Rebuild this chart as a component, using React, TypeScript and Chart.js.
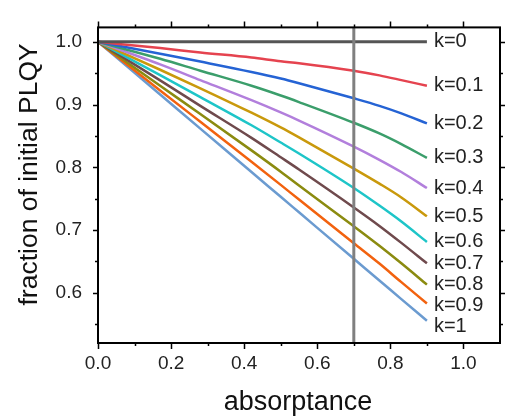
import React, { useEffect, useRef } from "react";
import { Chart, registerables } from "chart.js";

Chart.register(...registerables);

// Shared absorptance sample positions (x)
const absorptance = [0, 0.17, 0.28, 0.42, 0.5, 0.55, 0.7, 0.77, 0.83, 0.9];

// Fraction of initial PLQY per k
const k0 = [1, 1, 1, 1, 1, 1, 1, 1, 1, 1];
const k01 = [1, 0.99, 0.983, 0.975, 0.969, 0.966, 0.954, 0.9465, 0.939, 0.93];
const k02 = [1, 0.981, 0.9685, 0.952, 0.9415, 0.934, 0.91, 0.898, 0.886, 0.87];
const k03 = [1, 0.973, 0.954, 0.93, 0.9145, 0.904, 0.871, 0.854, 0.837, 0.815];
const k04 = [1, 0.964, 0.939, 0.907, 0.8875, 0.8746, 0.833, 0.812, 0.7925, 0.767];
const k05 = [1, 0.9555, 0.926, 0.887, 0.8635, 0.8476, 0.798, 0.774, 0.752, 0.722];
const k06 = [1, 0.947, 0.912, 0.867, 0.8395, 0.822, 0.767, 0.739, 0.7136, 0.681];
const k07 = [1, 0.9385, 0.898, 0.847, 0.816, 0.7965, 0.736, 0.7066, 0.6796, 0.647];
const k08 = [1, 0.93, 0.885, 0.827, 0.793, 0.771, 0.706, 0.675, 0.647, 0.613];
const k09 = [1, 0.9226, 0.8726, 0.809, 0.772, 0.7486, 0.679, 0.6466, 0.617, 0.583];
const k10 = [1, 0.916, 0.8617, 0.7925, 0.753, 0.7283, 0.6542, 0.6196, 0.59, 0.5554];

const seriesLabels = ["k=0", "k=0.1", "k=0.2", "k=0.3", "k=0.4", "k=0.5", "k=0.6", "k=0.7", "k=0.8", "k=0.9", "k=1"];
const seriesValues = [k0, k01, k02, k03, k04, k05, k06, k07, k08, k09, k10];
const seriesColors = [
  "#555555", "#e5434f", "#2563d4", "#3b9e6b", "#b27fdc", "#c9990c",
  "#1ec5c8", "#6f4a4d", "#8b8b10", "#f2620f", "#6b9bd0",
];

const xTicks = [0, 0.2, 0.4, 0.6, 0.8, 1.0];
const yTicks = [0.6, 0.7, 0.8, 0.9, 1.0];
const markerA = 0.7;

const FONT = '"Liberation Sans", Arial, sans-serif';

const decorPlugin = {
  id: "decor",
  afterDatasetsDraw(chart: any) {
    const { ctx, chartArea: a, scales } = chart;
    const x = scales.x;
    const y = scales.y;
    ctx.save();

    // vertical marker line
    const px = x.getPixelForValue(markerA);
    ctx.strokeStyle = "#808080";
    ctx.lineWidth = 3;
    ctx.beginPath();
    ctx.moveTo(px, a.top);
    ctx.lineTo(px, a.bottom);
    ctx.stroke();

    // frame
    ctx.strokeStyle = "#000";
    ctx.lineWidth = 2;
    ctx.strokeRect(a.left, a.top, a.right - a.left, a.bottom - a.top);

    // ticks
    ctx.lineWidth = 1.5;
    const xMinor: number[] = [];
    for (let i = 0; i < xTicks.length - 1; i++) xMinor.push((xTicks[i] + xTicks[i + 1]) / 2);
    const yMinor: number[] = [yTicks[0] - (yTicks[1] - yTicks[0]) / 2];
    for (let i = 0; i < yTicks.length - 1; i++) yMinor.push((yTicks[i] + yTicks[i + 1]) / 2);

    ctx.beginPath();
    const drawX = (v: number, len: number) => {
      const p = Math.round(x.getPixelForValue(v)) + 0.5;
      ctx.moveTo(p, a.bottom);
      ctx.lineTo(p, a.bottom + len);
      ctx.moveTo(p, a.top);
      ctx.lineTo(p, a.top - len);
    };
    const drawY = (v: number, len: number) => {
      const p = Math.round(y.getPixelForValue(v)) + 0.5;
      ctx.moveTo(a.left, p);
      ctx.lineTo(a.left - len, p);
      ctx.moveTo(a.right, p);
      ctx.lineTo(a.right + len, p);
    };
    xTicks.forEach((v) => drawX(v, 6));
    xMinor.forEach((v) => drawX(v, 3));
    yTicks.forEach((v) => drawY(v, 5));
    yMinor.forEach((v) => drawY(v, 3));
    ctx.stroke();

    // series labels at line ends
    ctx.font = `20px ${FONT}`;
    ctx.fillStyle = "#222";
    ctx.textAlign = "left";
    ctx.textBaseline = "middle";
    let prev = -Infinity;
    chart.data.datasets.forEach((ds: any) => {
      const last = ds.data[ds.data.length - 1];
      let py = y.getPixelForValue(last.y);
      py = Math.max(py, prev + 21);
      prev = py;
      ctx.fillText(ds.label, x.getPixelForValue(last.x) + 7, py);
    });

    // axis titles
    ctx.fillStyle = "#111";
    ctx.textAlign = "center";
    ctx.textBaseline = "alphabetic";
    ctx.font = `27px ${FONT}`;
    ctx.fillText("absorptance", (a.left + a.right) / 2 - 1, a.bottom + 67);
    ctx.font = `26.5px ${FONT}`;
    ctx.translate(a.left - 61, a.top + 147);
    ctx.rotate(-Math.PI / 2);
    ctx.fillText("fraction of initial PLQY", 0, 0);

    ctx.restore();
  },
};

export default function App() {
  const ref = useRef<HTMLCanvasElement | null>(null);

  useEffect(() => {
    if (!ref.current) return;
    const datasets = seriesLabels.map((label, i) => ({
      label,
      data: absorptance.map((a, j) => ({ x: a, y: seriesValues[i][j] })),
      borderColor: seriesColors[i],
      backgroundColor: seriesColors[i],
      borderWidth: i === 0 ? 3 : 2.5,
      pointRadius: 0,
      cubicInterpolationMode: "monotone" as const,
      fill: false,
    }));

    const chart = new Chart(ref.current, {
      type: "line",
      data: { datasets },
      options: {
        animation: false,
        responsive: false,
        maintainAspectRatio: false,
        devicePixelRatio: 1,
        layout: { padding: { top: 18, right: 5, left: 0, bottom: 0 } },
        plugins: { legend: { display: false }, tooltip: { enabled: false } },
        scales: {
          x: {
            type: "linear",
            min: 0,
            max: 1.1,
            grid: { display: false, drawTicks: false },
            border: { display: false },
            afterBuildTicks: (s: any) => {
              s.ticks = xTicks.map((v) => ({ value: v }));
            },
            afterFit: (s: any) => {
              s.height = 73;
            },
            ticks: {
              padding: 9,
              color: "#222",
              font: { family: FONT, size: 19 },
              maxRotation: 0,
              autoSkip: false,
              callback: (v: any) => Number(v).toFixed(1),
            },
          },
          y: {
            type: "linear",
            min: 0.52,
            max: 1.023,
            grid: { display: false, drawTicks: false },
            border: { display: false },
            afterBuildTicks: (s: any) => {
              s.ticks = yTicks.map((v) => ({ value: v }));
            },
            afterFit: (s: any) => {
              s.width = 98;
            },
            ticks: {
              padding: 16,
              color: "#222",
              font: { family: FONT, size: 19 },
              autoSkip: false,
              callback: (v: any) => Number(v).toFixed(1),
            },
          },
        },
      },
      plugins: [decorPlugin],
    });
    return () => chart.destroy();
  }, []);

  return (
    <div style={{ position: "absolute", left: 0, top: 0, width: 505, height: 416, background: "#fff" }}>
      <canvas ref={ref} width={505} height={416} />
    </div>
  );
}
